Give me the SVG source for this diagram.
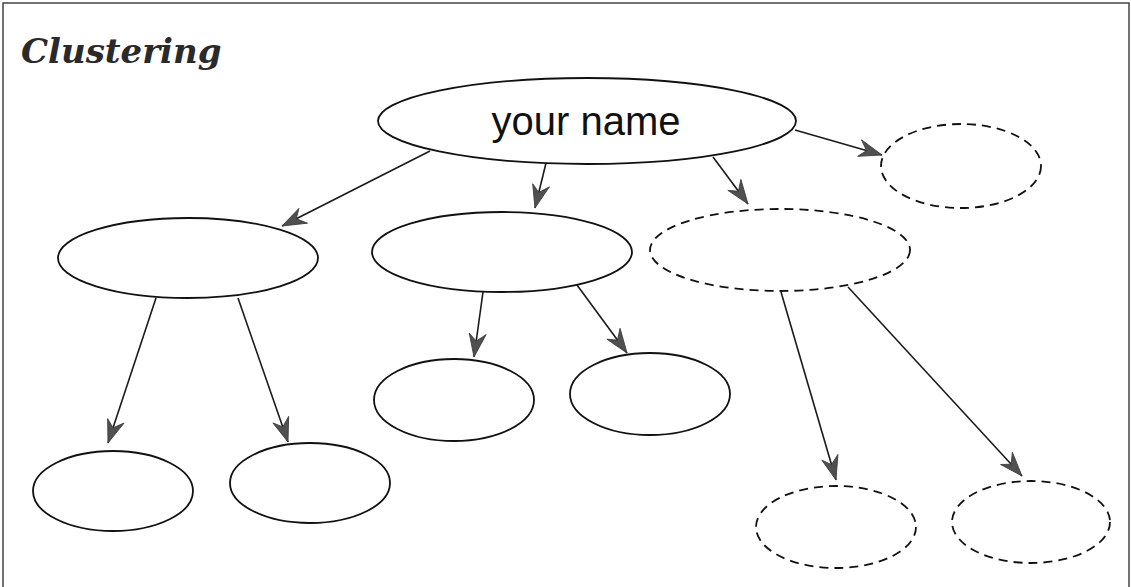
<svg xmlns="http://www.w3.org/2000/svg" width="1131" height="587" viewBox="0 0 1131 587">
  <style>
    .node { fill: #ffffff; stroke: #111111; stroke-width: 1.8; }
    .dashed { stroke-dasharray: 9 6; }
    .edge { stroke: #1a1a1a; stroke-width: 1.6; fill: none; marker-end: url(#head); }
    .title { font-family: "DejaVu Serif", "Liberation Serif", serif; font-weight: bold; font-style: italic; font-size: 34px; fill: #2a2a2a; }
    .label { font-family: "Liberation Sans", Arial, sans-serif; font-size: 40px; fill: #111111; }
  </style>
  <defs>
    <marker id="head" markerUnits="userSpaceOnUse" markerWidth="28" markerHeight="22" viewBox="-25 -11 27 22" refX="0" refY="0" orient="auto">
      <path d="M0,0 L-24,-9 L-16,0 L-23,8 Z" fill="#505050" stroke="#3a3a3a" stroke-width="0.8"/>
    </marker>
  </defs>

  <rect x="0" y="0" width="1131" height="587" fill="#ffffff"/>
  <!-- frame: left, top and right edges -->
  <path d="M3,587 L3,3 L1129,3 L1129,587" fill="none" stroke="#444444" stroke-width="1.5"/>

  <text class="title" x="21" y="63">Clustering</text>

  <g id="edges">
    <line class="edge" x1="430" y1="151" x2="282" y2="226"/>
    <line class="edge" x1="546" y1="163" x2="535" y2="208"/>
    <line class="edge" x1="713" y1="157" x2="748" y2="204"/>
    <line class="edge" x1="795" y1="130" x2="882" y2="155"/>
    <line class="edge" x1="156" y1="298" x2="108" y2="443"/>
    <line class="edge" x1="238" y1="298" x2="288" y2="442"/>
    <line class="edge" x1="483" y1="292" x2="474" y2="357"/>
    <line class="edge" x1="577" y1="285" x2="627" y2="353"/>
    <line class="edge" x1="781" y1="292" x2="836" y2="480"/>
    <line class="edge" x1="848" y1="287" x2="1022" y2="476"/>
  </g>

  <g id="root">
    <ellipse class="node" cx="587" cy="121" rx="209" ry="43"/>
    <text class="label" x="586" y="135" text-anchor="middle">your name</text>
  </g>
  <g id="mid-left">
    <ellipse class="node" cx="188" cy="258" rx="130" ry="40"/>
  </g>
  <g id="mid-center">
    <ellipse class="node" cx="502" cy="252" rx="130" ry="40"/>
  </g>
  <g id="mid-right">
    <ellipse class="node dashed" cx="780" cy="250" rx="130" ry="41"/>
  </g>
  <g id="top-right">
    <ellipse class="node dashed" cx="961" cy="166" rx="80" ry="42"/>
  </g>
  <g id="leaf-1">
    <ellipse class="node" cx="113" cy="491" rx="80" ry="40"/>
  </g>
  <g id="leaf-2">
    <ellipse class="node" cx="310" cy="483" rx="80" ry="40"/>
  </g>
  <g id="leaf-3">
    <ellipse class="node" cx="454" cy="400" rx="80" ry="41"/>
  </g>
  <g id="leaf-4">
    <ellipse class="node" cx="650" cy="394" rx="80" ry="41"/>
  </g>
  <g id="leaf-5">
    <ellipse class="node dashed" cx="836" cy="527" rx="80" ry="41"/>
  </g>
  <g id="leaf-6">
    <ellipse class="node dashed" cx="1031" cy="522" rx="79" ry="41"/>
  </g>
</svg>
